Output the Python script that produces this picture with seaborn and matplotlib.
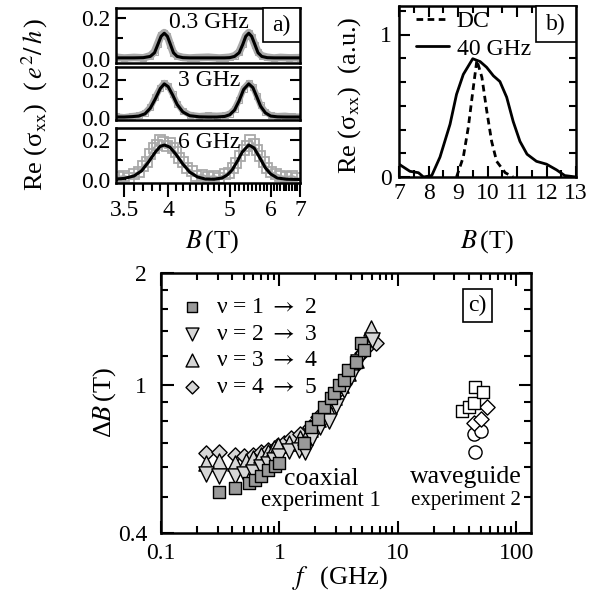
import numpy as np
import matplotlib
matplotlib.use('Agg')
import matplotlib.pyplot as plt
import seaborn as sns
from matplotlib.ticker import FixedLocator, FixedFormatter, MultipleLocator, NullFormatter, FormatStrFormatter
from matplotlib.patches import Rectangle

    # data

# panel a) -- Re(sigma_xx) vs B, three frequencies
top_B = [3.42, 3.5, 3.6, 3.7, 3.78, 3.83, 3.87, 3.91, 3.95, 3.99, 4.03, 4.07, 4.12, 4.2, 4.3, 4.4, 4.6,
         4.8, 4.9, 5.0, 5.1, 5.2, 5.28, 5.35, 5.42, 5.49, 5.57, 5.65, 5.75, 5.9, 6.1, 6.3, 6.6, 7.0]
top_fit = [0.005, 0.005, 0.005, 0.006, 0.012, 0.03, 0.07, 0.11, 0.125, 0.11, 0.07, 0.03, 0.012, 0.006, 0.005,
           0.005, 0.005, 0.005, 0.005, 0.006, 0.012, 0.03, 0.07, 0.11, 0.125, 0.11, 0.07, 0.03, 0.012, 0.006,
           0.005, 0.005, 0.005, 0.005]
top_dat = [0.008, 0.004, 0.007, 0.005, 0.015, 0.035, 0.075, 0.115, 0.128, 0.112, 0.068, 0.028, 0.014, 0.007,
           0.004, 0.006, 0.008, 0.004, 0.006, 0.008, 0.015, 0.033, 0.074, 0.113, 0.128, 0.108, 0.068, 0.032,
           0.015, 0.008, 0.004, 0.007, 0.005, 0.006]

mid_B = [3.42, 3.5, 3.58, 3.65, 3.72, 3.78, 3.84, 3.9, 3.95, 4.0, 4.06, 4.12, 4.2, 4.3, 4.45, 4.6, 4.75,
         4.9, 5.0, 5.1, 5.2, 5.3, 5.42, 5.52, 5.62, 5.72, 5.85, 6.0, 6.2, 6.45, 6.7, 7.0]
mid_fit = [0.003, 0.003, 0.005, 0.008, 0.02, 0.05, 0.10, 0.155, 0.18, 0.165, 0.12, 0.07, 0.03, 0.01, 0.004,
           0.003, 0.003, 0.006, 0.015, 0.04, 0.09, 0.15, 0.18, 0.16, 0.11, 0.06, 0.025, 0.008, 0.004, 0.003,
           0.003, 0.003]
mid_dat = [0.006, 0.002, 0.008, 0.012, 0.025, 0.055, 0.11, 0.16, 0.185, 0.17, 0.125, 0.075, 0.035, 0.015,
           0.008, 0.012, 0.01, 0.012, 0.02, 0.045, 0.095, 0.155, 0.185, 0.165, 0.115, 0.065, 0.03, 0.012,
           0.008, 0.01, 0.006, 0.005]

bot_B = [3.42, 3.5, 3.6, 3.68, 3.76, 3.84, 3.9, 3.95, 4.02, 4.1, 4.2, 4.3, 4.42, 4.55, 4.7, 4.85, 4.95,
         5.05, 5.15, 5.27, 5.42, 5.55, 5.7, 5.85, 6.0, 6.2, 6.5, 6.8, 7.0]
bot_fit = [0.005, 0.008, 0.02, 0.045, 0.09, 0.14, 0.168, 0.175, 0.165, 0.13, 0.08, 0.04, 0.015, 0.005, 0.004,
           0.01, 0.025, 0.05, 0.09, 0.14, 0.175, 0.16, 0.11, 0.06, 0.03, 0.01, 0.004, 0.003, 0.003]
bot_dat_B = [3.44, 3.5, 3.55, 3.6, 3.65, 3.7, 3.74, 3.78, 3.82, 3.86, 3.9, 3.94, 3.98, 4.02, 4.06, 4.1, 4.15,
             4.2, 4.26, 4.33, 4.4, 4.5, 4.6, 4.7, 4.8, 4.9, 4.98, 5.06, 5.14, 5.22, 5.3, 5.38, 5.46, 5.54,
             5.62, 5.7, 5.8, 5.9, 6.0, 6.15, 6.3, 6.5, 6.7, 6.9]
bot_dat = [0.015, 0.02, 0.012, 0.03, 0.04, 0.07, 0.09, 0.13, 0.16, 0.175, 0.2, 0.19, 0.17, 0.185, 0.16, 0.14,
           0.11, 0.09, 0.06, 0.045, 0.02, 0.025, 0.015, 0.02, 0.01, 0.03, 0.035, 0.06, 0.085, 0.12, 0.15,
           0.17, 0.2, 0.18, 0.15, 0.12, 0.09, 0.06, 0.04, 0.03, 0.02, 0.015, 0.02, 0.01]
freq_labels = ['0.3 GHz', '3 GHz', '6 GHz']

# panel b) -- DC vs 40 GHz
dc_B = [8.95, 9.18, 9.35, 9.52, 9.64, 9.81, 9.97, 10.14, 10.31, 10.6, 10.87]
dc_s = [0.0, 0.14, 0.35, 0.63, 0.82, 0.70, 0.47, 0.25, 0.11, 0.03, 0.0]
ghz40_B = [7.0, 7.37, 7.66, 7.83, 8.11, 8.39, 8.73, 8.95, 9.18, 9.5, 9.75, 9.97, 10.2, 10.42, 10.65, 10.87,
           11.1, 11.34, 11.66, 12.0, 12.34, 12.62, 13.0]
ghz40_s = [0.09, 0.04, 0.03, 0.0, 0.01, 0.14, 0.37, 0.58, 0.72, 0.83, 0.81, 0.77, 0.71, 0.67, 0.56, 0.39,
           0.25, 0.16, 0.11, 0.09, 0.05, 0.01, 0.0]

# panel c) -- peak width vs frequency
f_12 = [0.31, 0.42, 0.55, 0.62, 0.70, 0.80, 0.92, 1.0, 1.6, 1.85, 2.1, 2.4, 2.7, 2.9, 3.2, 3.5, 3.8, 4.4, 4.9, 5.2]
dB_12 = [0.515, 0.53, 0.545, 0.555, 0.57, 0.59, 0.605, 0.617, 0.70, 0.77, 0.81, 0.87, 0.92, 0.95, 1.0, 1.03,
         1.10, 1.15, 1.30, 1.24]
f_23 = [0.24, 0.31, 0.42, 0.5, 0.6, 0.7, 0.8, 0.9, 1.0, 1.2, 1.45, 1.65, 1.9, 2.2, 2.6, 3.0, 3.5, 4.0, 4.6, 5.3, 6.0]
dB_23 = [0.575, 0.57, 0.57, 0.575, 0.585, 0.60, 0.615, 0.63, 0.645, 0.665, 0.67, 0.66, 0.72, 0.77, 0.80, 0.88,
         0.97, 1.05, 1.15, 1.25, 1.32]
f_34 = [0.24, 0.31, 0.42, 0.52, 0.6, 0.7, 0.8, 0.9, 0.98, 1.2, 1.5, 1.8, 2.1, 2.5, 2.9, 3.3, 3.8, 4.4, 5.0, 5.9]
dB_34 = [0.617, 0.625, 0.617, 0.625, 0.635, 0.65, 0.66, 0.675, 0.69, 0.70, 0.72, 0.76, 0.81, 0.87, 0.93, 1.0,
         1.08, 1.17, 1.26, 1.42]
f_45 = [0.24, 0.31, 0.42, 0.5, 0.6, 0.7, 0.8, 0.95, 1.1, 1.26, 1.5, 1.8, 2.1, 2.5, 3.0, 3.6, 4.3, 5.0, 5.7, 6.5]
dB_45 = [0.656, 0.66, 0.65, 0.645, 0.65, 0.66, 0.67, 0.685, 0.70, 0.72, 0.74, 0.77, 0.82, 0.88, 0.95, 1.03,
         1.12, 1.22, 1.28, 1.30]
wg_sq_f = [35, 39.5, 43.5, 45, 52.7]
wg_sq_dB = [0.85, 0.87, 0.895, 0.99, 0.96]
wg_di_f = [43.5, 50, 57]
wg_di_dB = [0.79, 0.81, 0.87]
wg_ci_f = [43.5, 50, 45]
wg_ci_dB = [0.74, 0.75, 0.66]
nu_labels = [r'ν = 1 $\rightarrow$ 2', r'ν = 2 $\rightarrow$ 3', r'ν = 3 $\rightarrow$ 4', r'ν = 4 $\rightarrow$ 5']


    # style

sns.set_theme(style='ticks')
plt.rcParams['font.family'] = ['Liberation Serif', 'DejaVu Serif']
plt.rcParams['mathtext.fontset'] = 'stix'
plt.rcParams['axes.linewidth'] = 1.8
plt.rcParams['axes.edgecolor'] = 'black'
plt.rcParams['xtick.color'] = 'black'
plt.rcParams['ytick.color'] = 'black'
plt.rcParams['text.color'] = 'black'

W, H = 602, 603
fig = plt.figure(figsize=(6.02, 6.03), dpi=100)

def rect(x0, y0, x1, y1):
    'pixel box (top-left origin) -> figure fraction'
    return [x0 / W, 1 - y1 / H, (x1 - x0) / W, (y1 - y0) / H]

def inv_b(b):
    b = np.asarray(b, dtype=float)
    with np.errstate(divide='ignore', invalid='ignore'):
        return -1.0 / b

def boxlabel(ax, x0, y0, w, h, s, fs=17):
    ax.add_patch(Rectangle((x0, y0), w, h, transform=ax.transAxes, facecolor='white',
                           edgecolor='black', lw=1.2, zorder=5, clip_on=False))
    ax.text(x0 + w / 2, y0 + h / 2, s, transform=ax.transAxes, ha='center', va='center',
            fontsize=fs, zorder=6)

GRAY = '#a9a9a9'

    # panel a)

a_boxes = [(8, 63), (67, 120), (128, 183)]
a_ylims = [(-0.02, 0.248), (-0.013, 0.27), (-0.015, 0.26)]
a_fit = [(top_B, top_fit), (mid_B, mid_fit), (bot_B, bot_fit)]
axa = []
for i in range(3):
    ax = fig.add_axes(rect(116, a_boxes[i][0], 300, a_boxes[i][1]))
    axa.append(ax)
    if i == 0:
        sns.lineplot(x=top_B, y=top_dat, ax=ax, color=GRAY, lw=5.5, marker='s', ms=4,
                     mfc='none', mec=GRAY)
    elif i == 1:
        sns.lineplot(x=mid_B, y=mid_dat, ax=ax, color=GRAY, lw=4.5, marker='s', ms=5,
                     mfc='none', mec=GRAY)
    else:
        sns.lineplot(x=bot_dat_B, y=bot_dat, ax=ax, color=GRAY, lw=1.5, marker='s', ms=7,
                     mfc='none', mec=GRAY, mew=1.3)
    sns.lineplot(x=a_fit[i][0], y=a_fit[i][1], ax=ax, color='black', lw=2.2)
    ax.set_xscale('function', functions=(inv_b, inv_b))
    ax.set_xlim(3.42, 7.0)
    ax.set_ylim(*a_ylims[i])
    ax.yaxis.set_major_locator(FixedLocator([0.0, 0.2]))
    ax.yaxis.set_minor_locator(FixedLocator([0.1]))
    ax.yaxis.set_major_formatter(FormatStrFormatter('%.1f'))
    ax.tick_params(axis='y', which='both', direction='in', left=True, right=True, width=1.5,
                   labelsize=17, pad=4)
    ax.tick_params(axis='y', which='major', length=7)
    ax.tick_params(axis='y', which='minor', length=5)
    ax.set_xlabel('')
    ax.set_ylabel('')
    ax.text(0.505, 0.74, freq_labels[i], transform=ax.transAxes, ha='center', va='center', fontsize=17)
    if i < 2:
        ax.tick_params(axis='x', which='both', bottom=False, top=False, labelbottom=False)
    else:
        ax.xaxis.set_major_locator(FixedLocator([3.5, 4, 5, 6, 7]))
        ax.xaxis.set_minor_locator(FixedLocator([round(v, 1) for v in np.arange(3.5, 7.0, 0.1)]))
        ax.xaxis.set_major_formatter(FixedFormatter(['3.5', '4', '5', '6', '7']))
        ax.xaxis.set_minor_formatter(NullFormatter())
        ax.tick_params(axis='x', which='both', direction='out', top=False, width=1.5, labelsize=17, pad=2)
        ax.tick_params(axis='x', which='major', length=10)
        ax.tick_params(axis='x', which='minor', length=6)
boxlabel(axa[0], 0.80, 0.38, 0.20, 0.62, 'a)')

fig.text(35 / W, 1 - 104 / H, r'Re (σ$_{\mathrm{xx}}$)  ($\,e^2/\,h\,$)', rotation=90,
         ha='center', va='center', fontsize=19)
fig.text(212 / W, 1 - 242 / H, r'$B\,$(T)', ha='center', va='center', fontsize=19)

    # panel b)

axb = fig.add_axes(rect(399, 6, 576, 177))
sns.lineplot(x=dc_B, y=dc_s, ax=axb, color='black', lw=2.0, linestyle=(0, (2.4, 1.6)), label='DC')
sns.lineplot(x=ghz40_B, y=ghz40_s, ax=axb, color='black', lw=2.0, label='40 GHz')
axb.set_xlim(7, 13)
axb.set_ylim(0, 1.2)
axb.xaxis.set_major_locator(MultipleLocator(1))
axb.xaxis.set_minor_locator(MultipleLocator(0.5))
axb.yaxis.set_major_locator(FixedLocator([0, 1]))
axb.yaxis.set_minor_locator(FixedLocator([1 / 6 * k for k in range(1, 8)]))
axb.tick_params(which='both', direction='in', top=True, right=True, width=1.5, labelsize=17)
axb.tick_params(which='major', length=8)
axb.tick_params(which='minor', length=5)
axb.tick_params(axis='y', pad=5)
axb.tick_params(axis='x', pad=4)
axb.set_xlabel('')
axb.set_ylabel('')
axb.legend(loc='upper left', bbox_to_anchor=(0.0, 1.07), frameon=False, fontsize=17,
           handlelength=1.4, handletextpad=0.35, labelspacing=0.25, borderpad=0.2)
boxlabel(axb, 0.774, 0.79, 0.226, 0.21, 'b)')
fig.text(350 / W, 1 - 95 / H, r'Re (σ$_{\mathrm{xx}}$)  (a.u.)', rotation=90,
         ha='center', va='center', fontsize=19)
fig.text(487 / W, 1 - 242 / H, r'$B\,$(T)', ha='center', va='center', fontsize=19)

    # panel c)

axc = fig.add_axes(rect(161, 273, 531, 533))
LG = '#d6d6d6'
sns.scatterplot(x=f_45, y=dB_45, ax=axc, marker='D', s=60, color=LG, edgecolor='black',
                linewidth=1.0, label=nu_labels[3], zorder=2)
sns.scatterplot(x=f_34, y=dB_34, ax=axc, marker='^', s=120, color=LG, edgecolor='black',
                linewidth=1.0, label=nu_labels[2], zorder=3)
sns.scatterplot(x=f_23, y=dB_23, ax=axc, marker='v', s=120, color=LG, edgecolor='black',
                linewidth=1.0, label=nu_labels[1], zorder=4)
sns.scatterplot(x=f_12, y=dB_12, ax=axc, marker='s', s=64, color='#9a9a9a', edgecolor='black',
                linewidth=1.0, label=nu_labels[0], zorder=5)
sns.scatterplot(x=wg_ci_f, y=wg_ci_dB, ax=axc, marker='o', s=90, color='white', edgecolor='black',
                linewidth=1.0, legend=False, zorder=2)
sns.scatterplot(x=wg_di_f, y=wg_di_dB, ax=axc, marker='D', s=60, color='white', edgecolor='black',
                linewidth=1.0, legend=False, zorder=3)
sns.scatterplot(x=wg_sq_f, y=wg_sq_dB, ax=axc, marker='s', s=72, color='white', edgecolor='black',
                linewidth=1.0, legend=False, zorder=4)
axc.set_xscale('log')
axc.set_yscale('log')
axc.set_xlim(0.1, 133)
axc.set_ylim(0.4, 2)
axc.xaxis.set_major_locator(FixedLocator([0.1, 1, 10, 100]))
axc.xaxis.set_major_formatter(FixedFormatter(['0.1', '1', '10', '100']))
axc.xaxis.set_minor_locator(FixedLocator([m * 10.0 ** e for e in range(-1, 3) for m in range(2, 10)]))
axc.xaxis.set_minor_formatter(NullFormatter())
axc.yaxis.set_major_locator(FixedLocator([0.4, 1, 2]))
axc.yaxis.set_major_formatter(FixedFormatter(['0.4', '1', '2']))
axc.yaxis.set_minor_locator(FixedLocator([0.5, 0.6, 0.7, 0.8, 0.9, 1.2, 1.4, 1.6, 1.8]))
axc.yaxis.set_minor_formatter(NullFormatter())
axc.tick_params(which='both', direction='in', top=True, right=True, width=1.5, labelsize=17)
axc.tick_params(which='major', length=9)
axc.tick_params(which='minor', length=5)
axc.tick_params(axis='x', pad=7)
axc.tick_params(axis='y', pad=10)
axc.set_xlabel('')
axc.set_ylabel('')
h, l = axc.get_legend_handles_labels()
order = [l.index(s) for s in nu_labels]
axc.legend([h[k] for k in order], [l[k] for k in order], loc='upper left', bbox_to_anchor=(0.02, 0.955),
           frameon=False, fontsize=17, handlelength=1.0, handletextpad=0.5, labelspacing=0.22,
           borderpad=0, markerscale=0.85)
axc.text(2.25, 0.558, 'coaxial', ha='center', va='center', fontsize=18.5)
axc.text(2.25, 0.49, 'experiment 1', ha='center', va='center', fontsize=16.5)
axc.text(37.2, 0.566, 'waveguide', ha='center', va='center', fontsize=18.5)
axc.text(37.2, 0.49, 'experiment 2', ha='center', va='center', fontsize=15)
boxlabel(axc, 0.816, 0.81, 0.078, 0.13, 'c)')
fig.text(105 / W, 1 - 403 / H, r'Δ$B\,$(T)', rotation=90, ha='center', va='center', fontsize=19)
fig.text(340 / W, 1 - 578 / H, r'$f\,$  (GHz)', ha='center', va='center', fontsize=19)

fig.savefig('out.png', dpi=100)
